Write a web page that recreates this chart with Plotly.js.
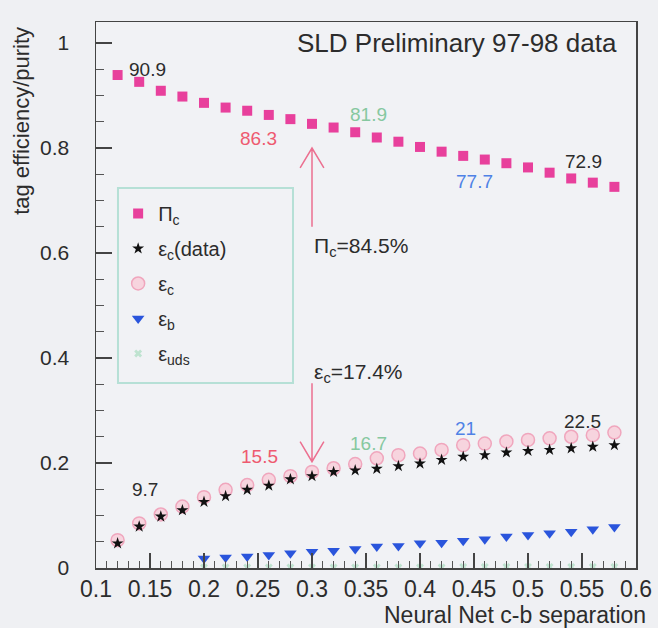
<!DOCTYPE html>
<html>
<head>
<meta charset="utf-8">
<script src="https://cdn.plot.ly/plotly-3.0.1.min.js"></script>
<style>
  html, body { margin: 0; padding: 0; background: #eff0f3; }
  #chart { width: 658px; height: 628px; }
</style>
</head>
<body>
<div id="chart"></div>
<script>
// ---- data ----
const cutValues = [0.12,0.14,0.16,0.18,0.20,0.22,0.24,0.26,0.28,0.30,0.32,0.34,
                   0.36,0.38,0.40,0.42,0.44,0.46,0.48,0.50,0.52,0.54,0.56,0.58];
const purityC = [0.939,0.926,0.909,0.898,0.886,0.877,0.871,0.863,0.855,0.846,0.839,0.830,
                 0.820,0.812,0.802,0.793,0.785,0.778,0.771,0.763,0.753,0.742,0.734,0.726];
const effCData = [0.047,0.079,0.098,0.110,0.126,0.137,0.149,0.157,0.169,0.175,0.183,0.186,
                  0.189,0.194,0.199,0.206,0.212,0.215,0.220,0.223,0.225,0.228,0.231,0.234];
const effCMC = [0.053,0.085,0.102,0.117,0.135,0.149,0.158,0.168,0.175,0.183,0.190,0.198,
                0.209,0.215,0.218,0.225,0.234,0.237,0.241,0.244,0.247,0.250,0.253,0.258];
const cutValuesB = [0.20,0.22,0.24,0.26,0.28,0.30,0.32,0.34,0.36,0.38,
                    0.40,0.42,0.44,0.46,0.48,0.50,0.52,0.54,0.56,0.58];
const effB = [0.018,0.020,0.022,0.025,0.028,0.031,0.033,0.036,0.041,0.042,
              0.047,0.048,0.052,0.055,0.060,0.063,0.066,0.069,0.074,0.078];
const effUds = [0.001,0.001,0.001,0.001,0.001,0.001,0.001,0.001,0.001,0.001,
                0.001,0.001,0.002,0.002,0.002,0.002,0.002,0.002,0.002,0.002];

// value labels written on the plot
const topLabels = ["90.9","86.3","81.9","77.7","72.9"];
const topLabelX = [0.148,0.250,0.352,0.450,0.551];
const topLabelY = [0.950,0.819,0.863,0.736,0.774];
const botLabels = ["9.7","15.5","16.7","21","22.5"];
const botLabelX = [0.145,0.251,0.352,0.442,0.550];
const botLabelY = [0.149,0.212,0.238,0.266,0.279];
const labelColors = ["#2c2c2c","#ee5a70","#86c8a0","#4f82e6","#2c2c2c"];

// chosen working point
const workCut = 0.30;
const purityText = "Π<sub>c</sub>=84.5%";
const effText = "ε<sub>c</sub>=17.4%";
const purityArrow = [0.65, 0.80];   // from, to
const effArrow = [0.352, 0.2025];   // from, to
const purityTextY = 0.611;
const effTextY = 0.371;

const FONT = "Liberation Sans, Arial, Helvetica, sans-serif";
const TXT = "#2c2c2c";

const traces = [
  {x: cutValues, y: purityC, name: "Π<sub>c</sub>", mode: "markers", type: "scatter",
   legendrank: 1, legendgroup: "g1",
   marker: {symbol: "square", size: 10, color: "#e8409c"}},
  {x: cutValues, y: effCMC, name: "ε<sub>c</sub>", mode: "markers", type: "scatter",
   legendrank: 3, legendgroup: "g3",
   marker: {symbol: "circle", size: 13, color: "rgba(247,208,220,0.9)",
            line: {color: "#f0a6bd", width: 1.5}}},
  {x: cutValues, y: effCData, name: "ε<sub>c</sub>(data)", mode: "markers", type: "scatter",
   legendrank: 2, legendgroup: "g2",
   marker: {symbol: "star", size: 9, color: "#111111"}},
  {x: cutValuesB, y: effB, name: "ε<sub>b</sub>", mode: "markers", type: "scatter",
   legendrank: 4, legendgroup: "g4",
   marker: {symbol: "triangle-down", size: 11, color: "#2a55dc"}},
  {x: cutValuesB, y: effUds, name: "ε<sub>uds</sub>", mode: "markers", type: "scatter",
   legendrank: 5, legendgroup: "g5",
   marker: {symbol: "x", size: 7, color: "#bfe3d0"}}
];

const annotations = [];
topLabels.forEach((t, i) => annotations.push({
  x: topLabelX[i], y: topLabelY[i], xref: "x", yref: "y", text: t, showarrow: false,
  font: {family: FONT, size: 19, color: labelColors[i]}}));
botLabels.forEach((t, i) => annotations.push({
  x: botLabelX[i], y: botLabelY[i], xref: "x", yref: "y", text: t, showarrow: false,
  font: {family: FONT, size: 19, color: labelColors[i]}}));
annotations.push({x: workCut, y: purityTextY, xref: "x", yref: "y", text: purityText,
  showarrow: false, xanchor: "left", font: {family: FONT, size: 21, color: TXT}});
annotations.push({x: workCut, y: effTextY, xref: "x", yref: "y", text: effText,
  showarrow: false, xanchor: "left", font: {family: FONT, size: 21, color: TXT}});
annotations.push({x: 0.434, y: 1.0, xref: "x", yref: "y", text: "SLD Preliminary 97-98 data",
  showarrow: false, font: {family: FONT, size: 26, color: TXT}});
annotations.push({x: 1.022, y: -0.086, xref: "paper", yref: "paper", xanchor: "right",
  yanchor: "middle", text: "Neural Net c-b separation", showarrow: false,
  font: {family: FONT, size: 23, color: TXT}});
annotations.push({x: -0.137, y: 0.819, xref: "paper", yref: "paper", xanchor: "center",
  yanchor: "middle", textangle: -90, text: "tag efficiency/purity", showarrow: false,
  font: {family: FONT, size: 22, color: TXT}});

function arrowPath(x, from, to) {
  const hx = 0.011, hy = 0.038 * Math.sign(to - from);
  return `M ${x},${from} L ${x},${to} M ${x - hx},${to - hy} L ${x},${to} L ${x + hx},${to - hy}`;
}
const shapes = [
  {type: "path", xref: "x", yref: "y", path: arrowPath(workCut, purityArrow[0], purityArrow[1]),
   line: {color: "#ec7090", width: 1.5}},
  {type: "path", xref: "x", yref: "y", path: arrowPath(workCut, effArrow[0], effArrow[1]),
   line: {color: "#ec7090", width: 1.5}},
  {type: "rect", xref: "paper", yref: "paper", x0: 0.0407, x1: 0.3648, y0: 0.339, y1: 0.696,
   line: {color: "#b6e0d6", width: 2}}
];

const layout = {
  width: 658, height: 628,
  margin: {l: 96, r: 22, t: 22, b: 60},
  paper_bgcolor: "#eff0f3", plot_bgcolor: "#f1f2f5",
  font: {family: FONT, color: TXT},
  showlegend: true,
  legend: {x: 0.041, y: 0.685, xanchor: "left", yanchor: "top",
           bgcolor: "rgba(0,0,0,0)", borderwidth: 0,
           traceorder: "grouped", tracegroupgap: 6,
           font: {family: FONT, size: 20, color: TXT}},
  xaxis: {range: [0.1, 0.6], tick0: 0.1, dtick: 0.05, ticks: "inside", ticklen: 15,
          tickcolor: "#444", tickwidth: 1.2, showline: true, linecolor: "#444", linewidth: 1.5,
          mirror: true, showgrid: false, zeroline: false, ticklabelstandoff: 0,
          tickfont: {family: FONT, size: 23, color: TXT},
          minor: {dtick: 0.01, ticks: "inside", ticklen: 7, tickcolor: "#555", showgrid: false}},
  yaxis: {range: [0, 1.04], tick0: 0, dtick: 0.2, ticks: "inside", ticklen: 16,
          tickcolor: "#444", tickwidth: 1.2, showline: true, linecolor: "#444", linewidth: 1.5,
          mirror: true, showgrid: false, zeroline: false, ticklabelstandoff: 21,
          tickfont: {family: FONT, size: 21, color: TXT},
          minor: {dtick: 0.05, ticks: "inside", ticklen: 8, tickcolor: "#555", showgrid: false}},
  annotations: annotations,
  shapes: shapes
};

Plotly.newPlot("chart", traces, layout, {displayModeBar: false, staticPlot: true});
</script>
</body>
</html>
